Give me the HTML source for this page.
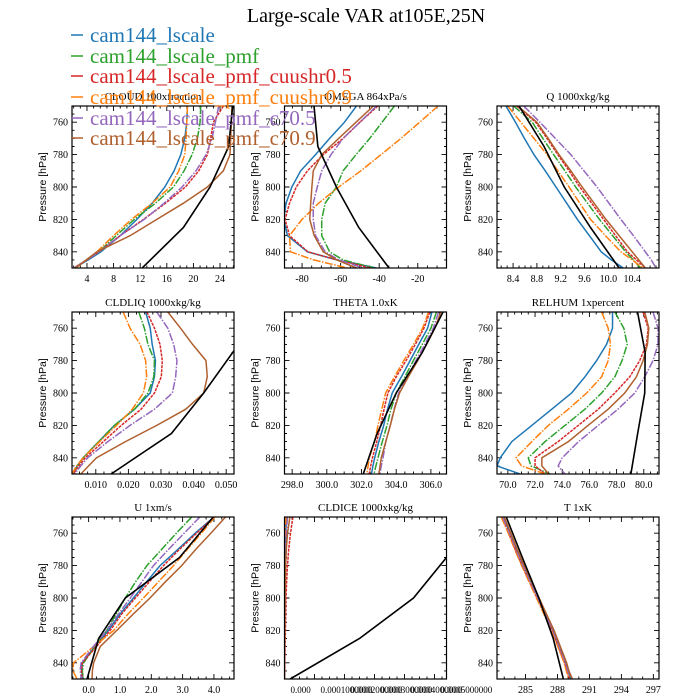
<!DOCTYPE html>
<html><head><meta charset="utf-8">
<style>
html,body{margin:0;padding:0;background:#fff;}
svg{display:block;}
</style></head>
<body>
<svg id="chart" width="700" height="700" viewBox="0 0 700 700" xmlns="http://www.w3.org/2000/svg">
<rect x="0" y="0" width="700" height="700" fill="#fff"/>
<text x="366" y="22" font-family="Liberation Serif, serif" font-size="20" text-anchor="middle">Large-scale VAR at105E,25N</text>
</svg>
<script>
// ---- data ----
const seriesNames = ["cam144_lscale","cam144_lscale_pmf","cam144_lscale_pmf_cuushr0.5","cam144_lscale_pmf_cuushr0.9","cam144_lscale_pmf_c70.5","cam144_lscale_pmf_c70.9"];
const modelP = [750,760,770,780,790,800,810,820,830,840,845,850];
const obsP = [750,775,800,825,850];

const cloudBlue=[19.1,19.0,18.7,18.1,17.1,15.7,13.8,11.5,9.0,6.1,4.2,2.1];
const cloudGreen=[21.1,21.0,20.6,19.8,18.6,17.0,14.3,11.1,8.4,5.8,4.0,2.1];
const cloudRed=[24.5,23.0,22.6,22.1,20.8,18.8,15.8,12.5,9.0,5.8,4.0,2.0];
const cloudOrange=[19.1,19.0,18.9,18.7,17.8,16.5,13.8,10.7,8.0,5.5,3.9,2.3];
const cloudPurple=[23.8,23.3,22.8,21.9,20.4,18.3,15.6,12.6,9.0,5.8,4.0,2.0];
const cloudBrown=[25.8,25.7,25.6,25.5,24.5,22.1,18.5,14.5,10.5,5.5,3.9,2.3];
const cloudObs=[25.9,25.3,22.5,18.5,12.3];

const omegaBlue=[-51.8,-58,-65.7,-73,-80.7,-85.3,-88.3,-89.5,-87.6,-77.2,-62,-41.4];
const omegaGreen=[-32.1,-38.5,-44.9,-52,-58.7,-62.2,-68,-69.8,-69.8,-65.7,-58.7,-42.5];
const omegaRed=[-40.7,-50,-58.7,-69,-77.2,-83,-86.5,-88.8,-86.5,-77,-62,-44.4];
const omegaOrange=[-9.5,-19,-28.7,-39,-49.5,-61,-71.4,-80,-86.5,-86,-74,-56.4];
const omegaPurple=[-41.4,-50,-58.7,-65,-69.8,-72.1,-74.2,-74.2,-73,-68,-61,-48.3];
const omegaBrown=[-43,-52,-61,-69.8,-74.2,-74.9,-75.5,-76,-73.7,-69,-62,-51.8];
const omegaObs=[-73.8,-71.8,-62.2,-50.6,-34.9];

const qBlue=[8.28,8.44,8.59,8.75,8.94,9.12,9.30,9.48,9.68,9.88,10.05,10.25];
const qGreen=[8.41,8.72,8.90,9.08,9.27,9.45,9.65,9.85,10.07,10.29,10.42,10.54];
const qRed=[8.46,8.78,8.97,9.15,9.34,9.52,9.72,9.92,10.12,10.32,10.47,10.62];
const qOrange=[8.31,8.53,8.75,8.97,9.15,9.34,9.52,9.70,9.95,10.21,10.40,10.58];
const qPurple=[8.58,8.85,9.11,9.37,9.59,9.81,10.01,10.21,10.42,10.62,10.72,10.80];
const qBrown=[8.48,8.80,8.99,9.17,9.37,9.56,9.76,9.96,10.18,10.40,10.51,10.62];
const qObs=[8.50,8.92,9.26,9.70,10.18];

const liqBlue=[0.0253,0.0267,0.0273,0.0283,0.0280,0.0267,0.0219,0.0157,0.0109,0.0061,0.0043,0.0030];
const liqGreen=[0.0232,0.0249,0.0260,0.0280,0.0278,0.0260,0.0219,0.0157,0.0109,0.0061,0.0043,0.0030];
const liqRed=[0.0257,0.0280,0.0297,0.0304,0.0301,0.0280,0.0239,0.0178,0.0123,0.0068,0.0048,0.0031];
const liqOrange=[0.0184,0.0205,0.0236,0.0253,0.0256,0.0246,0.0212,0.0164,0.0112,0.0061,0.0041,0.0027];
const liqPurple=[0.0287,0.0321,0.0339,0.0349,0.0345,0.0335,0.0280,0.0205,0.0137,0.0075,0.0054,0.0034];
const liqBrown=[0.0321,0.0360,0.0397,0.0438,0.0442,0.0431,0.0376,0.0287,0.0191,0.0102,0.0078,0.0054];
const liqObs=[0.0610,0.0520,0.0431,0.0332,0.0147];

const thBlue=[306.06,305.81,305.3,304.8,304.3,303.77,303.5,303.28,303.0,302.76,302.66,302.57];
const thGreen=[306.32,306.0,305.5,304.99,304.5,304.0,303.7,303.47,303.2,302.95,302.83,302.72];
const thRed=[305.94,305.6,305.1,304.57,304.0,303.52,303.3,303.1,302.88,302.63,302.53,302.44];
const thOrange=[305.87,305.52,305.0,304.44,303.9,303.39,303.17,302.95,302.75,302.45,302.38,302.3];
const thPurple=[306.44,306.14,305.65,305.14,304.65,304.14,303.88,303.66,303.4,303.24,303.14,303.05];
const thBrown=[306.57,306.23,305.75,305.24,304.7,304.19,303.9,303.66,303.4,303.14,303.07,303.0];
const thObs=[306.7,305.5,304.0,302.9,302.1];

const rhBlue=[77.7,77.7,77.26,76.53,75.67,74.69,73.23,71.76,70.29,69.44,69.2,70.9];
const rhGreen=[77.87,78.53,78.78,78.4,77.87,76.9,75.67,74.2,72.74,71.5,71.7,73.1];
const rhRed=[79.95,80.32,80.2,79.7,78.97,77.87,76.65,75.18,73.7,72.0,72.0,72.74];
const rhOrange=[76.9,77.38,77.55,77.38,76.9,75.8,74.45,72.98,71.76,70.6,71.0,72.74];
const rhPurple=[80.68,81.05,81.05,80.68,80.07,79.34,78.1,76.65,75.2,74.0,73.7,74.2];
const rhBrown=[80.07,80.37,80.27,79.95,79.46,78.6,77.38,75.9,74.45,72.5,72.5,73.0];
const rhObs=[79.54,80.1,80.07,79.55,79.05];

const uBlue=[4.0,3.4,2.85,2.28,1.85,1.43,1.0,0.63,0.2,-0.2,-0.22,-0.18];
const uGreen=[3.29,2.8,2.33,1.86,1.5,1.17,0.88,0.58,0.2,-0.16,-0.2,-0.17];
const uRed=[4.0,3.45,2.9,2.39,1.94,1.49,1.05,0.69,0.25,-0.2,-0.23,-0.2];
const uOrange=[4.03,3.6,3.15,2.71,2.23,1.75,1.25,0.8,0.16,-0.48,-0.5,-0.37];
const uPurple=[3.55,3.05,2.55,2.07,1.7,1.33,0.95,0.58,0.15,-0.24,-0.27,-0.23];
const uBrown=[4.37,3.9,3.42,2.97,2.45,1.96,1.42,0.9,0.37,0.16,0.12,0.11];
const uObs=[3.98,2.9,1.17,0.32,-0.05];

const iceBlue=[0.000005,0.000004,0.000003,0.000002,0.000001,0.000001,0,0,0,0,0,0];
const iceGreen=[0.000006,0.000004,0.000003,0.000002,0.000001,0.000001,0,0,0,0,0,0];
const iceRed=[0.000028,0.00002,0.000014,0.00001,0.000007,0.000005,0.000004,0.000003,0.000002,0.000001,0.000001,0];
const iceOrange=[0.000004,0.000003,0.000002,0.000001,0.000001,0,0,0,0,0,0,0];
const icePurple=[0.00001,0.000006,0.000004,0.000003,0.000002,0.000001,0.000001,0,0,0,0,0];
const iceBrown=[0.000018,0.00001,0.000006,0.000004,0.000003,0.000002,0.000001,0.000001,0,0,0,0];
const iceObs=[0.0007,0.00054,0.00043,0.00025,0.000019];

const tBlue=[282.9,283.55,284.15,284.8,285.5,286.2,286.9,287.61,288.2,288.79,289.0,289.25];
const tGreen=[282.92,283.57,284.17,284.82,285.52,286.22,286.92,287.63,288.22,288.81,289.02,289.27];
const tRed=[282.78,283.43,284.03,284.68,285.38,286.08,286.78,287.49,288.08,288.67,288.88,289.13];
const tOrange=[282.72,283.38,283.98,284.63,285.33,286.03,286.73,287.44,288.03,288.62,288.83,289.05];
const tPurple=[282.85,283.5,284.1,284.75,285.45,286.15,286.85,287.56,288.15,288.74,288.95,289.35];
const tBrown=[283.0,283.62,284.22,284.87,285.57,286.27,286.97,287.68,288.27,288.86,289.07,289.4];
const tObs=[283.19,284.7,286.25,287.6,288.55];

const cloudTicks=[4,8,12,16,20,24];
const omegaTicks=[-80,-60,-40,-20];
const qTicks=[8.4,8.8,9.2,9.6,10.0,10.4];
const liqTicks=[0.01,0.02,0.03,0.04,0.05];
const thTicks=[298,300,302,304,306];
const rhTicks=[70,72,74,76,78,80];
const uTicks=[0,1,2,3,4];
const iceTicks=[0,0.0001,0.0002,0.0003,0.0004,0.0005];
const tTicks=[285,288,291,294,297];
const pTicks=[760,780,800,820,840];

// ---- styles/layout ----
const colors=["#1f77b4","#2ca02c","#d62728","#ff7f0e","#9467bd","#b0602e"];
const dashes=["","8,1.5,1.5,1.5","3,1","8,1.5,1.5,1.5","8,1.5,1.5,1.5",""];
const panels=[
 {name:"cloud",title:"CLOUD  100xfraction",col:0,row:0,xmin:1.75,xmax:26.1,minor:1,ticks:cloudTicks,fmt:v=>String(v),series:[cloudBlue,cloudGreen,cloudRed,cloudOrange,cloudPurple,cloudBrown],obs:cloudObs},
 {name:"omega",title:"OMEGA  864xPa/s",col:1,row:0,xmin:-89.1,xmax:-5.1,minor:5,ticks:omegaTicks,fmt:v=>String(v),series:[omegaBlue,omegaGreen,omegaRed,omegaOrange,omegaPurple,omegaBrown],obs:omegaObs},
 {name:"q",title:"Q  1000xkg/kg",col:2,row:0,xmin:8.13,xmax:10.85,minor:0.1,ticks:qTicks,fmt:v=>v.toFixed(1),series:[qBlue,qGreen,qRed,qOrange,qPurple,qBrown],obs:qObs},
 {name:"cldliq",title:"CLDLIQ  1000xkg/kg",col:0,row:1,xmin:0.0027,xmax:0.0524,minor:0.0025,ticks:liqTicks,fmt:v=>v.toFixed(3),series:[liqBlue,liqGreen,liqRed,liqOrange,liqPurple,liqBrown],obs:liqObs},
 {name:"theta",title:"THETA  1.0xK",col:1,row:1,xmin:297.56,xmax:306.9,minor:0.5,ticks:thTicks,fmt:v=>v.toFixed(1),series:[thBlue,thGreen,thRed,thOrange,thPurple,thBrown],obs:thObs},
 {name:"relhum",title:"RELHUM  1xpercent",col:2,row:1,xmin:69.2,xmax:81.12,minor:0.5,ticks:rhTicks,fmt:v=>v.toFixed(1),series:[rhBlue,rhGreen,rhRed,rhOrange,rhPurple,rhBrown],obs:rhObs},
 {name:"u",title:"U  1xm/s",col:0,row:2,xmin:-0.53,xmax:4.64,minor:0.25,ticks:uTicks,fmt:v=>v.toFixed(1),series:[uBlue,uGreen,uRed,uOrange,uPurple,uBrown],obs:uObs},
 {name:"cldice",title:"CLDICE  1000xkg/kg",col:1,row:2,xmin:0,xmax:0.00054,minor:0.000025,ticks:iceTicks,fmt:v=>v===0?"0.000":v.toFixed(4)+"000000",series:[iceBlue,iceGreen,iceRed,iceOrange,icePurple,iceBrown],obs:iceObs},
 {name:"t",title:"T  1xK",col:2,row:2,xmin:282.32,xmax:297.53,minor:1,ticks:tTicks,fmt:v=>String(v),series:[tBlue,tGreen,tRed,tOrange,tPurple,tBrown],obs:tObs}
];
const colX=[72,284.5,497], rowY=[106,312,517], W=162, H=162, PMIN=750, PMAX=850;
const NS="http://www.w3.org/2000/svg";
const svg=document.getElementById("chart");
function mk(tag,attrs,parent){const e=document.createElementNS(NS,tag);for(const k in attrs)e.setAttribute(k,attrs[k]);(parent||svg).appendChild(e);return e;}

panels.forEach(pn=>{
  const x0=colX[pn.col], y0=rowY[pn.row];
  const xs=v=>x0+(v-pn.xmin)/(pn.xmax-pn.xmin)*W;
  const ys=p=>y0+(p-PMIN)/(PMAX-PMIN)*H;
  const g=mk("g",{});
  
  
  const cp=mk("clipPath",{id:"clip-"+pn.name},g);
  mk("rect",{x:x0,y:y0,width:W,height:H},cp);
  const tt=mk("text",{x:x0+W/2,y:y0-6,"font-family":"Liberation Serif, serif","font-size":"11","text-anchor":"middle"},g);
  tt.textContent=pn.title;
  
  
  const yl=mk("text",{x:0,y:0,transform:`translate(${x0-26},${y0+H/2}) rotate(-90)`,"font-family":"Liberation Sans, sans-serif","font-size":"10.5","text-anchor":"middle"},g);
  yl.textContent="Pressure [hPa]";
  
  
  let tk="";
  for(let p=PMIN+5;p<PMAX;p+=5){const y=ys(p);const L=(p%20===0)?5:2.5;tk+=`M${x0},${y}h${L}M${x0+W},${y}h${-L}`;}
  const nMin=Math.round((pn.xmax-pn.xmin)/pn.minor)+2;
  const start=Math.ceil(pn.xmin/pn.minor-1e-9)*pn.minor;
  for(let i=0;i<nMin;i++){const v=start+i*pn.minor;if(v>pn.xmax)break;const x=xs(v);
    const maj=pn.ticks.some(t=>Math.abs(t-v)<pn.minor*0.01);const L=maj?5:2.5;
    tk+=`M${x},${y0+H}v${-L}M${x},${y0}v${L}`;}
  mk("path",{d:tk,stroke:"#000","stroke-width":"0.9",fill:"none"},g);
  pTicks.forEach(p=>{
    const t=mk("text",{x:x0-4,y:ys(p)+3.5,"font-family":"Liberation Serif, serif","font-size":"10","text-anchor":"end"},g);
    t.textContent=String(p);
    
    
  });
  pn.ticks.forEach(v=>{
    const t=mk("text",{x:xs(v),y:y0+H+14,"font-family":"Liberation Serif, serif","font-size":pn.name==="cldice"?"9":"10","text-anchor":pn.name==="cldice"?"start":"middle"},g);
    if(pn.name==="cldice") t.setAttribute("x",xs(v)+6);
    t.textContent=pn.fmt(v);
    
    
  });
  const lg=mk("g",{"clip-path":`url(#clip-${pn.name})`},g);
  pn.series.forEach((arr,i)=>{
    const d=arr.map((v,k)=>(k?"L":"M")+xs(v).toFixed(2)+","+ys(modelP[k]).toFixed(2)).join("");
    const pa=mk("path",{d:d,stroke:colors[i],"stroke-width":"1.5",fill:"none","stroke-dasharray":dashes[i]||"none"},lg);
    
    
  });
  const od=pn.obs.map((v,k)=>(k?"L":"M")+xs(v).toFixed(2)+","+ys(obsP[k]).toFixed(2)).join("");
  const ob=mk("path",{d:od,stroke:"#000","stroke-width":"1.6",fill:"none"},lg);
  
  
  const fr=mk("rect",{x:x0,y:y0,width:W,height:H,fill:"none",stroke:"#000","stroke-width":"1.2"},g);
  
  
});

const legY=[35,56,76,97,118,138];
seriesNames.forEach((n,i)=>{
  const g=mk("g",{});
  
  
  mk("line",{x1:71,x2:83,y1:legY[i],y2:legY[i],stroke:colors[i],"stroke-width":"1.5"},g);
  const t=mk("text",{x:90,y:legY[i]+7,"font-family":"Liberation Serif, serif","font-size":"21",fill:colors[i]},g);
  t.textContent=n;
});
</script>
</body></html>
